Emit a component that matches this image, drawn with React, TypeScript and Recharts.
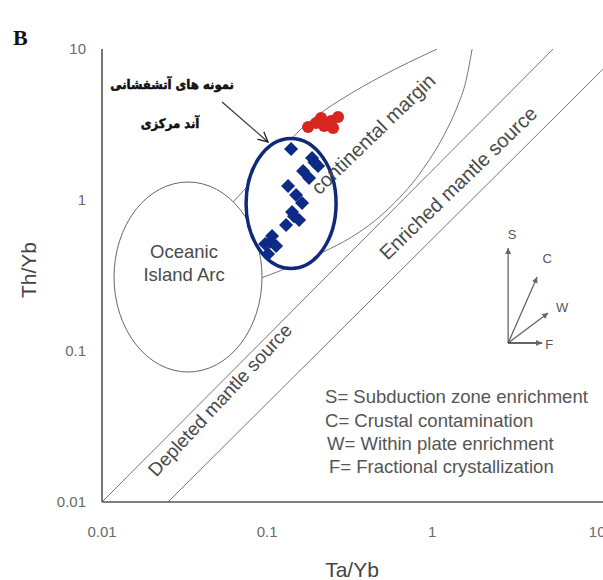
import React from 'react';
import { ComposedChart, XAxis, YAxis, Line, Scatter } from 'recharts';

// ---- axes ----
const xTicks = [0.01, 0.1, 1, 10];
const yTicks = [0.01, 0.1, 1, 10];

// ---- samples (Ta/Yb, Th/Yb) ----
const blueSamples = [
  { x: 0.1398, y: 2.177 }, { x: 0.1874, y: 1.897 }, { x: 0.2037, y: 1.68 },
  { x: 0.1653, y: 1.556 }, { x: 0.1797, y: 1.398 }, { x: 0.1341, y: 1.238 },
  { x: 0.1499, y: 1.079 }, { x: 0.163, y: 0.955 }, { x: 0.1418, y: 0.833 },
  { x: 0.1563, y: 0.737 }, { x: 0.1304, y: 0.683 }, { x: 0.1072, y: 0.578 },
  { x: 0.0973, y: 0.511 }, { x: 0.1134, y: 0.496 }, { x: 0.1014, y: 0.439 },
  { x: 0.1936, y: 1.78 }, { x: 0.1455, y: 0.78 }, { x: 0.1045, y: 0.53 },
];
const redSamples = [
  { x: 0.1772, y: 3.043 }, { x: 0.1982, y: 3.235 }, { x: 0.2215, y: 3.091 },
  { x: 0.2443, y: 3.336 }, { x: 0.2693, y: 3.544 }, { x: 0.2512, y: 2.998 },
  { x: 0.2125, y: 3.491 },
];

// ---- field boundaries ----
const mantleUpper = [{ x: 0.01, y: 0.01 }, { x: 5.41, y: 10 }];
const mantleLower = [{ x: 0.0251, y: 0.01 }, { x: 10.87, y: 7.37 }];
const acmUpper = [
  { x: 0.0622, y: 0.97 }, { x: 0.0882, y: 1.464 }, { x: 0.125, y: 2.21 },
  { x: 0.1585, y: 2.908 }, { x: 0.2037, y: 3.654 }, { x: 0.2971, y: 4.81 },
  { x: 0.4841, y: 6.526 }, { x: 1.072, y: 10 },
];
const acmLower = [
  { x: 0.092, y: 0.3043 }, { x: 0.1418, y: 0.3655 }, { x: 0.2185, y: 0.4525 },
  { x: 0.3184, y: 0.5602 }, { x: 0.5337, y: 0.8586 }, { x: 0.846, y: 1.509 },
  { x: 1.199, y: 2.778 }, { x: 1.418, y: 4.128 }, { x: 1.608, y: 6.233 },
  { x: 1.747, y: 10 },
];
const oiaField = [{ x: 0.0332, y: 0.309 }];
const sampleGroup = [{ x: 0.1398, y: 0.948 }];

// ---- process vectors ----
const vecS = [{ x: 2.888, y: 0.113 }, { x: 2.888, y: 0.481 }];
const vecC = [{ x: 2.888, y: 0.113 }, { x: 4.329, y: 0.3091 }];
const vecW = [{ x: 2.888, y: 0.113 }, { x: 5.047, y: 0.1785 }];
const vecF = [{ x: 2.888, y: 0.113 }, { x: 4.642, y: 0.113 }];
const vectorLabels = [
  { x: 3.053, y: 0.5865, label: 'S' },
  { x: 4.977, y: 0.4067, label: 'C' },
  { x: 6.135, y: 0.1956, label: 'W' },
  { x: 5.118, y: 0.1096, label: 'F' },
];

// ---- annotations ----
const oiaLabel = [{ x: 0.0314, y: 0.3884, lines: ['Oceanic', 'Island Arc'] }];
const acmLabel = [{ x: 0.4389, y: 2.736, text: 'continental margin' }];
const enrichedLabel = [{ x: 1.438, y: 1.296, text: 'Enriched mantle source' }];
const depletedLabel = [{ x: 0.0519, y: 0.0474, text: 'Depleted mantle source' }];
const persianLines = ['نمونه های آتشفشانی', 'آند مرکزی'];
const persianAnchor = [{ x: 0.0266, y: 5.776 }];
const persianArrow = [{ x: 0.0534, y: 4.457 }, { x: 0.1014, y: 2.422 }];
const legendLines = [
  'S= Subduction zone enrichment',
  'C= Crustal contamination',
  'W= Within plate enrichment',
  'F= Fractional crystallization',
];
const legendAnchor = [{ x: 0.2246, y: 0.0496 }];

const SANS = '"Liberation Sans", Arial, sans-serif';

const rotText = (angle: number, size: number) => (p: any) => {
  if (p.cx == null) return <g />;
  return (
    <text
      x={p.cx}
      y={p.cy}
      transform={`rotate(${angle} ${p.cx} ${p.cy})`}
      textAnchor="middle"
      dominantBaseline="central"
      fontFamily={SANS}
      fontSize={size}
      fill="#4a4a4a"
    >
      {p.payload.text}
    </text>
  );
};

export default function App() {
  return (
    <div style={{ position: 'absolute', left: 0, top: 0, width: 603, height: 580, overflow: 'hidden', background: '#fff' }}>
      <svg width={0} height={0} style={{ position: 'absolute' }}>
        <defs>
          <marker id="arrBlack" markerUnits="userSpaceOnUse" markerWidth={12} markerHeight={12} refX={10} refY={5} orient="auto" viewBox="0 0 12 10">
            <path d="M0,0 L10,5 L0,10" fill="none" stroke="#222" strokeWidth={1.3} />
          </marker>
          <marker id="arrGray" markerUnits="userSpaceOnUse" markerWidth={6} markerHeight={6} refX={6} refY={3} orient="auto" viewBox="0 0 6 6">
            <path d="M0,0 L6,3 L0,6 Z" fill="#666" />
          </marker>
        </defs>
      </svg>
      <ComposedChart width={620} height={580} margin={{ top: 49, right: 16, bottom: 28, left: 0 }}>
        <XAxis
          dataKey="x"
          type="number"
          scale="log"
          domain={[0.01, 11]}
          allowDataOverflow
          ticks={xTicks}
          tickFormatter={(v: number) => String(v)}
          height={50}
          tickLine={false}
          tickSize={8}
          tickMargin={16}
          axisLine={{ stroke: '#555', strokeWidth: 1.6 }}
          tick={{ fill: '#6a6a6a', fontSize: 15, fontFamily: SANS }}
        />
        <XAxis
          xAxisId="top"
          orientation="top"
          type="number"
          scale="log"
          domain={[0.01, 11]}
          allowDataOverflow
          height={0}
          tick={false}
          tickLine={false}
          axisLine={{ stroke: '#555', strokeWidth: 1.6 }}
        />
        <YAxis
          dataKey="y"
          type="number"
          scale="log"
          domain={[0.01, 10]}
          allowDataOverflow
          ticks={yTicks}
          tickFormatter={(v: number) => String(v)}
          width={102}
          tickLine={false}
          tickSize={8}
          tickMargin={8}
          axisLine={{ stroke: '#555', strokeWidth: 1.6 }}
          tick={{ fill: '#6a6a6a', fontSize: 15, fontFamily: SANS }}
        />

        <Line data={mantleUpper} dataKey="y" type="linear" stroke="#777" strokeWidth={1} dot={false} isAnimationActive={false} />
        <Line data={mantleLower} dataKey="y" type="linear" stroke="#777" strokeWidth={1} dot={false} isAnimationActive={false} />
        <Line data={acmUpper} dataKey="y" type="monotone" stroke="#777" strokeWidth={1} dot={false} isAnimationActive={false} />
        <Line data={acmLower} dataKey="y" type="monotone" stroke="#777" strokeWidth={1} dot={false} isAnimationActive={false} />

        <Line data={vecS} dataKey="y" type="linear" stroke="#666" strokeWidth={1.3} dot={false} markerEnd="url(#arrGray)" isAnimationActive={false} />
        <Line data={vecC} dataKey="y" type="linear" stroke="#666" strokeWidth={1.3} dot={false} markerEnd="url(#arrGray)" isAnimationActive={false} />
        <Line data={vecW} dataKey="y" type="linear" stroke="#666" strokeWidth={1.3} dot={false} markerEnd="url(#arrGray)" isAnimationActive={false} />
        <Line data={vecF} dataKey="y" type="linear" stroke="#333" strokeWidth={1.3} dot={false} markerEnd="url(#arrGray)" isAnimationActive={false} />
        <Line data={persianArrow} dataKey="y" type="linear" stroke="#333" strokeWidth={1.2} dot={false} markerEnd="url(#arrBlack)" isAnimationActive={false} />

        <Scatter
          data={oiaField}
          isAnimationActive={false}
          shape={(p: any) => (p.cx == null ? <g /> : <ellipse cx={p.cx} cy={p.cy} rx={74} ry={95} fill="#fff" stroke="#666" strokeWidth={1} />)}
        />
        <Scatter
          data={sampleGroup}
          isAnimationActive={false}
          shape={(p: any) => (p.cx == null ? <g /> : <ellipse cx={p.cx} cy={p.cy} rx={45} ry={65} fill="#fff" stroke="#0f2a78" strokeWidth={3.5} />)}
        />

        <Scatter
          data={oiaLabel}
          isAnimationActive={false}
          shape={(p: any) =>
            p.cx == null ? <g /> : (
              <g fontFamily={SANS} fontSize={18.5} fill="#4a4a4a" textAnchor="middle">
                <text x={p.cx} y={p.cy - 11} dominantBaseline="central">{p.payload.lines[0]}</text>
                <text x={p.cx} y={p.cy + 12} dominantBaseline="central">{p.payload.lines[1]}</text>
              </g>
            )
          }
        />
        <Scatter data={acmLabel} isAnimationActive={false} shape={rotText(-44, 20)} />
        <Scatter data={enrichedLabel} isAnimationActive={false} shape={rotText(-44, 20)} />
        <Scatter data={depletedLabel} isAnimationActive={false} shape={rotText(-47, 19)} />
        <Scatter
          data={vectorLabels}
          isAnimationActive={false}
          shape={(p: any) =>
            p.cx == null ? <g /> : (
              <text x={p.cx} y={p.cy} textAnchor="middle" dominantBaseline="central" fontFamily={SANS} fontSize={13} fill="#555">
                {p.payload.label}
              </text>
            )
          }
        />
        <Scatter
          data={legendAnchor}
          isAnimationActive={false}
          shape={(p: any) =>
            p.cx == null ? <g /> : (
              <g fontFamily={SANS} fontSize={18.5} fill="#555">
                {legendLines.map((t, i) => (
                  <text key={t} x={p.cx + (i === 2 ? 2 : i === 3 ? 4 : 0)} y={p.cy + i * 23.3} dominantBaseline="central">{t}</text>
                ))}
              </g>
            )
          }
        />
        <Scatter
          data={persianAnchor}
          isAnimationActive={false}
          shape={(p: any) =>
            p.cx == null ? <g /> : (
              <g fontFamily='"DejaVu Sans Condensed", "DejaVu Sans", sans-serif' fontStretch="condensed" fontWeight="bold" fontSize={13} fill="#111" stroke="#111" strokeWidth={0.5} textAnchor="middle">
                <text x={p.cx} y={p.cy} dominantBaseline="central" direction="rtl">{persianLines[0]}</text>
                <text x={p.cx - 2} y={p.cy + 39} dominantBaseline="central" direction="rtl">{persianLines[1]}</text>
              </g>
            )
          }
        />

        <Scatter
          data={redSamples}
          isAnimationActive={false}
          shape={(p: any) => (p.cx == null ? <g /> : <circle cx={p.cx} cy={p.cy} r={6} fill="#d7261e" />)}
        />
        <Scatter
          data={blueSamples}
          isAnimationActive={false}
          shape={(p: any) =>
            p.cx == null ? <g /> : (
              <polygon
                points={`${p.cx},${p.cy - 7} ${p.cx + 7},${p.cy} ${p.cx},${p.cy + 7} ${p.cx - 7},${p.cy}`}
                fill="#0c2a86"
              />
            )
          }
        />
      </ComposedChart>
      <svg width={603} height={580} style={{ position: 'absolute', left: 0, top: 0, pointerEvents: 'none' }}>
        <text x={13} y={45} fontFamily='"Liberation Serif", "Times New Roman", serif' fontWeight="bold" fontSize={22} fill="#111">B</text>
        <text x={352} y={569} textAnchor="middle" dominantBaseline="central" fontFamily={SANS} fontSize={21} fill="#444">Ta/Yb</text>
        <text x={28} y={270} transform="rotate(-90 28 270)" textAnchor="middle" dominantBaseline="central" fontFamily={SANS} fontSize={21} fill="#444">Th/Yb</text>
      </svg>
    </div>
  );
}
